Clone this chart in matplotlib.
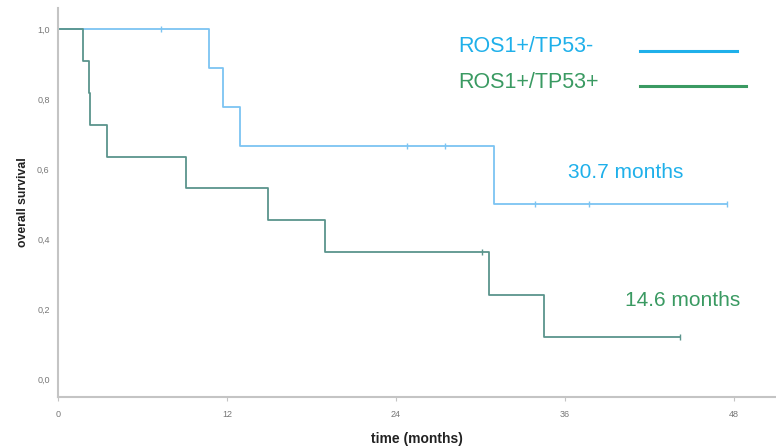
import matplotlib
matplotlib.use("Agg")
import matplotlib.pyplot as plt

# TP53- (blue) step curve
neg_times = [0, 10.7, 11.7, 12.9, 31.0, 47.5]
neg_surv = [1.0, 0.889, 0.778, 0.667, 0.5, 0.5]
neg_cens_t = [7.3, 24.8, 27.5, 33.9, 37.7, 47.5]
neg_cens_s = [1.0, 0.667, 0.667, 0.5, 0.5, 0.5]

# TP53+ (green) step curve
pos_times = [0, 1.8, 2.2, 2.3, 3.5, 9.1, 14.9, 19.0, 30.6, 34.5, 44.2]
pos_surv = [1.0, 0.909, 0.818, 0.727, 0.636, 0.545, 0.455, 0.364, 0.242, 0.121, 0.121]
pos_cens_t = [30.1, 44.2]
pos_cens_s = [0.364, 0.121]

xticks = [0, 12, 24, 36, 48]
yticks = [0.0, 0.2, 0.4, 0.6, 0.8, 1.0]
ytick_labels = ["0,0", "0,2", "0,4", "0,6", "0,8", "1,0"]

blue_line = "#7cc4f2"
blue_text = "#1fb0ea"
green_line = "#5a948c"
green_text = "#3a9a62"
grey = "#c4c4c4"

plt.rcParams['font.family'] = ['Liberation Sans', 'DejaVu Sans']

fig = plt.figure(figsize=(7.76, 4.48), dpi=100)
ax = fig.add_axes([58/776, 1-397/448, 1-58/776, (397-8)/448])

ax.step(neg_times, neg_surv, where='post', color=blue_line, lw=1.3)
ax.plot(neg_cens_t, neg_cens_s, ls='none', marker='|', ms=5, mew=1.0, color=blue_line)
ax.step(pos_times, pos_surv, where='post', color=green_line, lw=1.3)
ax.plot(pos_cens_t, pos_cens_s, ls='none', marker='|', ms=5, mew=1.0, color=green_line)

ax.set_xlim(0, 51)
ax.set_ylim(-0.05, 1.06)
ax.set_xticks(xticks)
ax.set_xticklabels([str(t) for t in xticks], fontsize=6.5, color='#777777')
ax.set_yticks(yticks)
ax.set_yticklabels(ytick_labels, fontsize=6.5, color='#777777')
ax.tick_params(axis='y', length=0, pad=6)
ax.tick_params(axis='x', length=3, color=grey, pad=6)
for s in ['top', 'right']:
    ax.spines[s].set_visible(False)
for s in ['left', 'bottom']:
    ax.spines[s].set_color(grey)
    ax.spines[s].set_linewidth(1.5)

ax.set_xlabel("time (months)", fontsize=10, fontweight='bold', color='#222222', labelpad=10)
ax.set_ylabel("overall survival", fontsize=8.8, fontweight='bold', color='#222222', labelpad=6)

# legend-like annotations
ax.text(458/776, 1-47/448, "ROS1+/TP53-", transform=fig.transFigure, fontsize=15.5,
        color=blue_text, va='center', ha='left')
ax.text(458/776, 1-82/448, "ROS1+/TP53+", transform=fig.transFigure, fontsize=15.5,
        color=green_text, va='center', ha='left')
fig.add_artist(plt.Line2D([640/776, 737/776], [1-51/448, 1-51/448], color=blue_text, lw=2.2))
fig.add_artist(plt.Line2D([640/776, 746/776], [1-86/448, 1-86/448], color=green_text, lw=2.2))

ax.text(568/776, 1-172/448, "30.7 months", transform=fig.transFigure, fontsize=15,
        color=blue_text, va='center', ha='left')
ax.text(625/776, 1-300/448, "14.6 months", transform=fig.transFigure, fontsize=15,
        color=green_text, va='center', ha='left')

fig.savefig("out.png", dpi=100)
